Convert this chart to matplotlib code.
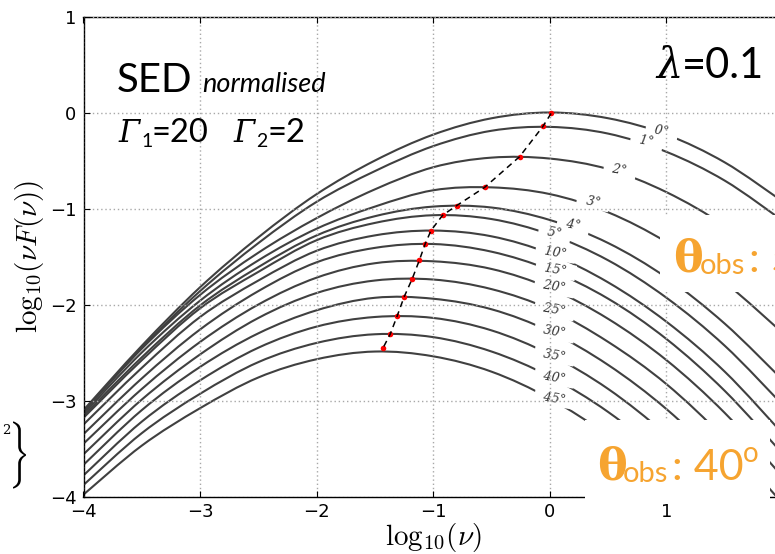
import numpy as np
import matplotlib
matplotlib.use("Agg")
import matplotlib.pyplot as plt
from matplotlib.path import Path
from matplotlib.patches import PathPatch, Rectangle
from matplotlib.textpath import TextPath
from matplotlib.font_manager import FontProperties
from matplotlib.transforms import Affine2D, IdentityTransform

# =======================
# Datos
# =======================
log_nu = [-4.0, -3.5, -3.0, -2.5, -2.0, -1.5, -1.0, -0.5, 0.0, 0.5, 1.0, 1.5, 2.0]

sed_00 = [-3.10, -2.43, -1.82, -1.30, -0.85, -0.50, -0.23, -0.06, 0.00, -0.06, -0.23, -0.52, -0.93]
sed_01 = [-3.11, -2.45, -1.86, -1.36, -0.93, -0.61, -0.35, -0.19, -0.15, -0.22, -0.41, -0.71, -1.13]
sed_02 = [-3.12, -2.46, -1.90, -1.46, -1.10, -0.80, -0.57, -0.47, -0.48, -0.59, -0.83, -1.18, -1.65]
sed_03 = [-3.14, -2.50, -1.96, -1.54, -1.21, -0.98, -0.81, -0.78, -0.85, -1.04, -1.35, -1.77, -2.30]
sed_04 = [-3.16, -2.55, -2.01, -1.61, -1.28, -1.08, -0.98, -0.99, -1.12, -1.36, -1.72, -2.20, -2.79]
sed_05 = [-3.18, -2.58, -2.04, -1.66, -1.33, -1.15, -1.07, -1.11, -1.27, -1.54, -1.93, -2.43, -3.05]
sed_10 = [-3.25, -2.66, -2.13, -1.75, -1.44, -1.28, -1.23, -1.29, -1.47, -1.77, -2.18, -2.70, -3.35]
sed_15 = [-3.35, -2.77, -2.26, -1.86, -1.56, -1.41, -1.37, -1.45, -1.64, -1.94, -2.36, -2.90, -3.56]
sed_20 = [-3.45, -2.88, -2.39, -2.00, -1.72, -1.57, -1.55, -1.63, -1.83, -2.15, -2.58, -3.13, -3.80]
sed_25 = [-3.56, -2.99, -2.52, -2.14, -1.88, -1.75, -1.74, -1.84, -2.05, -2.39, -2.83, -3.40, -4.08]
sed_30 = [-3.67, -3.10, -2.65, -2.30, -2.06, -1.93, -1.94, -2.05, -2.28, -2.63, -3.09, -3.67, -4.37]
sed_35 = [-3.78, -3.22, -2.79, -2.45, -2.23, -2.13, -2.14, -2.27, -2.52, -2.88, -3.36, -3.95, -4.66]
sed_40 = [-3.88, -3.34, -2.93, -2.60, -2.40, -2.31, -2.34, -2.49, -2.75, -3.12, -3.61, -4.22, -4.94]
sed_45 = [-3.98, -3.47, -3.08, -2.76, -2.57, -2.49, -2.54, -2.70, -2.98, -3.37, -3.88, -4.51, -5.25]

angulos = [0, 1, 2, 3, 4, 5, 10, 15, 20, 25, 30, 35, 40, 45]
seds = [sed_00, sed_01, sed_02, sed_03, sed_04, sed_05, sed_10,
        sed_15, sed_20, sed_25, sed_30, sed_35, sed_40, sed_45]

# picos (puntos rojos)
pico_x = [0.01, -0.06, -0.26, -0.56, -0.80, -0.92, -1.02, -1.07, -1.12, -1.18, -1.25, -1.31, -1.37, -1.43]
pico_y = [-0.01, -0.145, -0.46, -0.78, -0.97, -1.07, -1.23, -1.37, -1.54, -1.73, -1.92, -2.12, -2.31, -2.45]

# posicion de las etiquetas de angulo
etiq_x = [0.96, 0.83, 0.60, 0.37, 0.20, 0.04, 0.05, 0.05, 0.04, 0.04, 0.04, 0.04, 0.04, 0.04]
etiq_y = [-0.19, -0.30, -0.60, -0.93, -1.17, -1.26, -1.46, -1.64, -1.82, -2.06, -2.29, -2.53, -2.76, -2.98]

W, H = 775, 554
NARANJA = "#F6A430"

plt.rcParams["mathtext.fontset"] = "cm"

fig = plt.figure(figsize=(W / 100, H / 100), dpi=100)
ax = fig.add_axes([83.5 / W, (H - 496.5) / H, (783.1 - 83.5) / W, (496.5 - 16.5) / H])


def curva_suave(xs, ys):
    # Catmull-Rom -> Bezier cubico (lo dibuja matplotlib)
    p = np.column_stack([xs, ys])
    verts = [p[0]]
    codes = [Path.MOVETO]
    n = len(p)
    for i in range(n - 1):
        p0 = p[max(i - 1, 0)]
        p1 = p[i]
        p2 = p[i + 1]
        p3 = p[min(i + 2, n - 1)]
        verts += [p1 + (p2 - p0) / 6, p2 - (p3 - p1) / 6, p2]
        codes += [Path.CURVE4] * 3
    return Path(verts, codes)


for sed in seds:
    ax.add_patch(PathPatch(curva_suave(log_nu, sed), fill=False,
                           ec="#404040", lw=1.5, zorder=2))

ax.plot(pico_x, pico_y, "o", color="red", ms=4, mec="none", zorder=4)
ax.plot(pico_x, pico_y, color="black", lw=1.1, ls=(0, (4, 3)), zorder=5)

for a, xl, yl in zip(angulos, etiq_x, etiq_y):
    ax.text(xl, yl, f"  {a}°  ", fontsize=9, style="italic", family="DejaVu Serif",
            rotation=-10, rotation_mode="anchor", ha="center", va="center",
            color="#333333", zorder=2.2,
            bbox=dict(boxstyle="square,pad=0.1", fc="white", ec="none"))

ax.set_xlim(-4, 2)
ax.set_ylim(-4, 1)
ax.set_xticks([-4, -3, -2, -1, 0, 1, 2])
ax.set_yticks([-4, -3, -2, -1, 0, 1])
ax.grid(True, color="#a8a8a8", ls=(0, (1, 2)), lw=1)
ax.set_axisbelow(False)
ax.tick_params(direction="in", top=True, right=True, length=4, labelsize=13, pad=5)
for s in ax.spines.values():
    s.set_linewidth(1.0)

ax.set_xlabel(r"$\mathrm{log}_{10}(\nu)$", fontsize=21, labelpad=0)
ax.set_ylabel(r"$\mathrm{log}_{10}(\nu F(\nu))$", fontsize=21, labelpad=3)


# =======================
# Textos superpuestos (coordenadas en pixeles)
# =======================
def texto(px, py, s, **kw):
    fig.text(px / W, 1 - py / H, s, va="baseline", **kw)


texto(117, 91.7, "SED", family="Lato", fontsize=29)
texto(202, 91.7, "normalised", family="Lato", style="italic", fontsize=19.5)

texto(118, 141.7, "Γ", family="DejaVu Serif", style="italic", fontsize=22)
texto(141, 147, "1", family="Lato", fontsize=14)
texto(152, 141.7, "=20", family="Lato", fontsize=23.5)
texto(233, 141.7, "Γ", family="DejaVu Serif", style="italic", fontsize=22)
texto(256, 147, "2", family="Lato", fontsize=14)
texto(268, 141.7, "=2", family="Lato", fontsize=23.5)

texto(656, 78, "λ", family="DejaVu Serif", style="italic", fontsize=30)
texto(682, 78, "=0.1", family="Lato", fontsize=30)

# cajas blancas con theta_obs
fig.patches.append(Rectangle((660 / W, 1 - 292 / H), 120 / W, 77 / H,
                             transform=fig.transFigure, fc="white", ec="none", zorder=1))
fig.patches.append(Rectangle((585 / W, 1 - 501 / H), 185 / W, 81 / H,
                             transform=fig.transFigure, fc="white", ec="none", zorder=1))

texto(673, 271.7, "θ", family="DejaVu Serif", weight="bold", fontsize=32, color=NARANJA)
texto(700, 274, "obs", family="Lato", fontsize=21, color=NARANJA)
texto(749, 271.7, ": 5", family="Lato", fontsize=31, color=NARANJA)

texto(597, 480, "θ", family="DejaVu Serif", weight="bold", fontsize=32, color=NARANJA)
texto(623, 482, "obs", family="Lato", fontsize=21, color=NARANJA)
texto(672, 480, ": 40", family="Lato", fontsize=31, color=NARANJA)
texto(743, 462, "o", family="Lato", fontsize=20, color=NARANJA)

# restos a la izquierda: "2" y la llave
texto(2, 434, "2", family="DejaVu Serif", fontsize=9.5)
tp = TextPath((0, 0), r"$\}$", size=20, prop=FontProperties(math_fontfamily="cm"))
ext = tp.get_extents()
tr = (Affine2D().translate(-ext.x0, -ext.y0)
      .scale(13 / ext.width, 67 / ext.height).translate(13, H - 488.5))
fig.patches.append(PathPatch(tr.transform_path(tp), fc="black", ec="none",
                             transform=IdentityTransform(), zorder=3))

fig.savefig("out.png", dpi=100)
